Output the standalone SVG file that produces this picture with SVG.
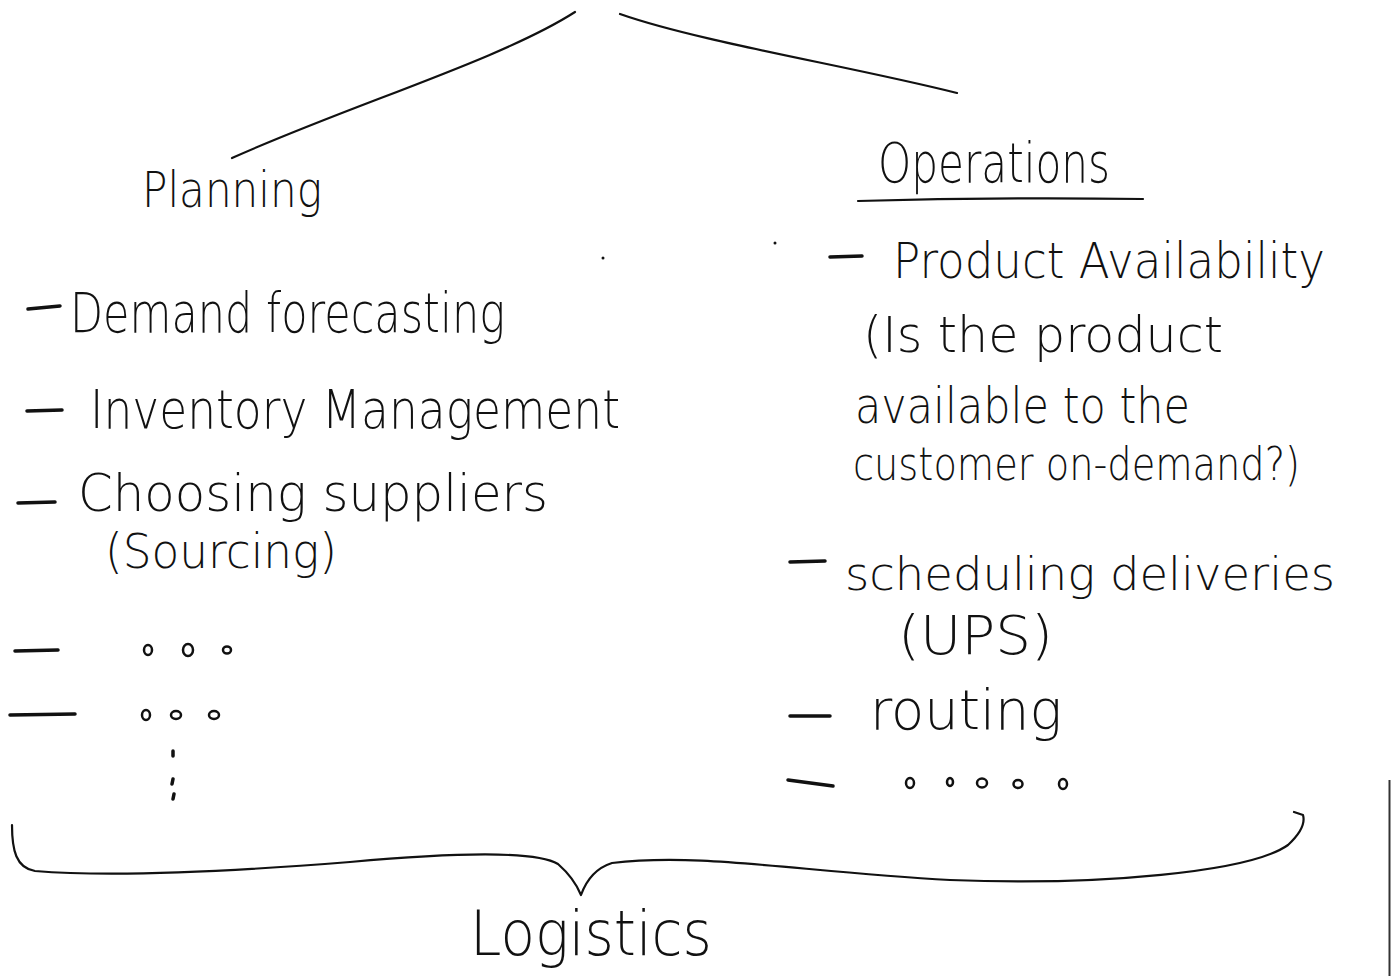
<svg xmlns="http://www.w3.org/2000/svg" width="1391" height="976" viewBox="0 0 1391 976">
<style>
.t{font-family:"DejaVu Sans","Liberation Sans",sans-serif;font-weight:200;fill:#111}
.s{fill:none;stroke:#111;stroke-width:2.2;stroke-linecap:round;stroke-linejoin:round}
.d{fill:none;stroke:#111;stroke-width:3.5;stroke-linecap:round}
.o{fill:none;stroke:#111;stroke-width:2.5}
</style>
<rect width="1391" height="976" fill="#fff"/>
<g id="connectors">
<path class="s" d="M232,158 C350,105 500,60 575,12"/>
<path class="s" d="M620,14 C700,42 850,66 957,93"/>
<path class="s" d="M12,825 C12,850 16,868 35,871 C120,878 250,870 350,862 C450,853 535,850 558,864 Q574,878 581,895 Q590,870 612,863 C700,852 800,872 950,880 C1100,886 1250,872 1288,845 C1302,832 1305,822 1303,815 L1294,812"/>
<line x1="1389.5" y1="780" x2="1389.5" y2="976" stroke="#333" stroke-width="2"/>
</g>
<g id="planning">
<text class="t" x="142" y="207" font-size="50" textLength="180" lengthAdjust="spacingAndGlyphs">Planning</text>
<path class="d" d="M28,309 L60,306"/>
<text class="t" x="70" y="332" font-size="56" textLength="435" lengthAdjust="spacingAndGlyphs">Demand forecasting</text>
<path class="d" d="M27,411 L62,410"/>
<text class="t" x="90" y="428" font-size="54" textLength="530" lengthAdjust="spacingAndGlyphs">Inventory Management</text>
<path class="d" d="M18,503 L55,502"/>
<text class="t" x="78" y="511" font-size="52" textLength="470" lengthAdjust="spacingAndGlyphs">Choosing suppliers</text>
<text class="t" x="105" y="568" font-size="48" textLength="232" lengthAdjust="spacingAndGlyphs">(Sourcing)</text>
<path class="d" d="M15,651 L58,650"/>
<ellipse class="o" cx="148" cy="650" rx="4" ry="5"/>
<ellipse class="o" cx="188" cy="650" rx="5" ry="6"/>
<ellipse class="o" cx="227" cy="650" rx="4" ry="3.5"/>
<path class="d" d="M10,715 L75,714"/>
<ellipse class="o" cx="146" cy="715" rx="4" ry="5"/>
<ellipse class="o" cx="176" cy="715" rx="5" ry="4"/>
<ellipse class="o" cx="214" cy="715" rx="5" ry="4"/>
<path class="d" d="M173,751 L173,756 M173,779 L172,784 M174,794 L173,799"/>
</g>
<g id="operations">
<text class="t" x="878" y="182" font-size="56" textLength="232" lengthAdjust="spacingAndGlyphs">Operations</text>
<path class="s" d="M858,201 Q1000,197 1143,199"/>
<path class="d" d="M830,257 L862,256"/>
<text class="t" x="893" y="278" font-size="50" textLength="432" lengthAdjust="spacingAndGlyphs">Product Availability</text>
<text class="t" x="863" y="352" font-size="50" textLength="360" lengthAdjust="spacingAndGlyphs">(Is the product</text>
<text class="t" x="855" y="423" font-size="50" textLength="335" lengthAdjust="spacingAndGlyphs">available to the</text>
<text class="t" x="853" y="480" font-size="46" textLength="447" lengthAdjust="spacingAndGlyphs">customer on-demand?)</text>
<path class="d" d="M790,562 L825,561"/>
<text class="t" x="845" y="590" font-size="46" textLength="490" lengthAdjust="spacingAndGlyphs">scheduling deliveries</text>
<text class="t" x="898" y="654" font-size="54" textLength="155" lengthAdjust="spacingAndGlyphs">(UPS)</text>
<path class="d" d="M790,716 L830,716"/>
<text class="t" x="870" y="729" font-size="56" textLength="192" lengthAdjust="spacingAndGlyphs">routing</text>
<path class="d" d="M788,780 L833,786"/>
<ellipse class="o" cx="910" cy="783" rx="4" ry="5"/>
<ellipse class="o" cx="950" cy="782" rx="3" ry="4"/>
<ellipse class="o" cx="982" cy="783" rx="5" ry="4.5"/>
<ellipse class="o" cx="1018" cy="784" rx="4.5" ry="4"/>
<ellipse class="o" cx="1063" cy="784" rx="4" ry="5"/>
</g>
<g id="logistics">
<text class="t" x="470" y="955" font-size="62" textLength="242" lengthAdjust="spacingAndGlyphs">Logistics</text>
</g>
<g id="marks">
<circle cx="603" cy="258" r="1.5" fill="#111"/>
<circle cx="775" cy="243" r="1.5" fill="#111"/>
</g>
</svg>
